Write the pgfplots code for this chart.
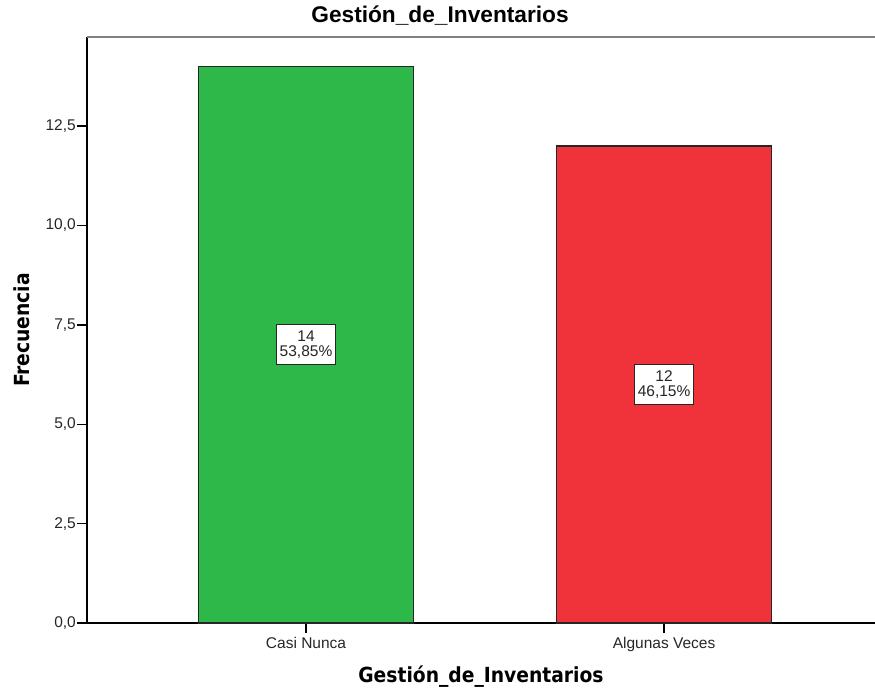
\documentclass[border=0pt]{standalone}
\usepackage{fontspec}
\setmainfont{Liberation Sans}
\newfontfamily\labfont{DejaVu Sans Condensed}
\usepackage{pgfplots}
\pgfplotsset{compat=1.18}
\definecolor{bargreen}{RGB}{46,184,74}
\definecolor{barred}{RGB}{240,50,58}
\begin{document}
\begin{tikzpicture}
\path[use as bounding box] (-87pt,-65pt) rectangle (788pt,623pt);
\begin{axis}[
  at={(0pt,0pt)}, anchor=south west,
  scale only axis, width=788pt, height=586pt,
  xmin=-0.6117, xmax=1.589, ymin=0, ymax=14.74,
  axis lines*=left,
  axis line style={-, line width=1.4pt, black},
  xtick={0,1}, xticklabels={Casi Nunca, Algunas Veces},
  ytick={0,2.5,5,7.5,10,12.5},
  tick align=outside, major tick length=10pt,
  tick style={line width=1.4pt, black},
  yticklabel style={/pgf/number format/.cd, fixed, fixed zerofill, precision=1, use comma, assume math mode=true, /tikz/.cd,
    font=\fontsize{15.5}{18}\selectfont, inner xsep=1pt, text=black!85},
  xticklabel style={font=\fontsize{15.5}{18}\selectfont, inner ysep=4pt, text=black!85},
  title={Gestión\_de\_Inventarios},
  title style={at={(axis description cs:0.448,1)}, anchor=base, yshift=8pt,
    font=\bfseries\fontsize{22.7}{26}\selectfont},
  xlabel={Gestión\_de\_Inventarios},
  xlabel style={at={(axis description cs:0.5,-0.1007)}, anchor=base,
    font=\labfont\bfseries\fontsize{20.8}{24}\selectfont},
  ylabel={Frecuencia},
  ylabel style={at={(axis description cs:-0.07234,0.5)}, anchor=base,
    font=\labfont\bfseries\fontsize{20.8}{24}\selectfont},
]
\addplot[ybar, bar width=0.6, bar shift=0pt, fill=bargreen, draw=black!85, line width=1.3pt] coordinates {(0,14)};
\addplot[ybar, bar width=0.6, bar shift=0pt, fill=barred, draw=black!85, line width=1.3pt] coordinates {(1,12)};
\addplot[draw=none, mark=none, nodes near coords, point meta=explicit symbolic,
  nodes near coords style={anchor=center, draw=black!85, line width=1.2pt, fill=white, align=center,
    font=\fontsize{15.5}{15}\selectfont, inner xsep=3pt, inner ysep=6pt, text=black!85}]
  coordinates {(0,7) [14\\53,85\%] (1,6) [12\\46,15\%]};
\draw[black!50, line width=2pt] (rel axis cs:0,1) -- (rel axis cs:1,1);
\end{axis}
\end{tikzpicture}
\end{document}
